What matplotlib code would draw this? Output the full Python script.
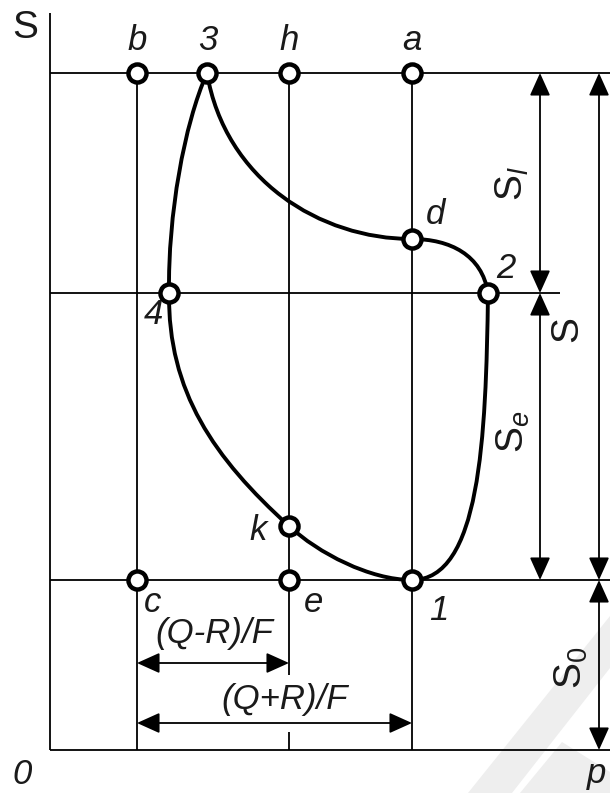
import matplotlib
matplotlib.use("Agg")
import matplotlib.pyplot as plt
from matplotlib.path import Path
from matplotlib.patches import PathPatch, Polygon, ArrowStyle

plt.rcParams['font.family'] = ['Liberation Sans', 'DejaVu Sans']
plt.rcParams['mathtext.fontset'] = 'custom'
plt.rcParams['mathtext.rm'] = 'Liberation Sans'
plt.rcParams['mathtext.it'] = 'Liberation Sans:italic'

# Diagram frame (drawing units, y grows downward)
axis_x = 50
axis_top = 13
level_top = 73      # b, 3, h, a
level_mid = 293     # 4, 2
level_low = 580     # c, e, 1
level_base = 750    # p axis
col_c = 137
col_e = 289
col_1 = 412
dim_inner_x = 540
dim_outer_x = 599
right_edge = 610
mid_line_end = 560

# Cycle points
pt_1 = (412, 580)
pt_2 = (488, 293)
pt_d = (412, 239)
pt_3 = (207, 73)
pt_4 = (169, 293)
pt_k = (289, 526)

# Cubic segments of the closed loop: 1-2-d-3-4-k-1 (control points)
seg_1_2 = [(480, 580), (486, 440)]
seg_2_d = [(482, 255), (450, 239)]
seg_d_3 = [(320, 239), (225, 180)]
seg_3_4 = [(184, 125), (168, 215)]
seg_4_k = [(168, 392), (214, 458)]
seg_k_1 = [(318, 553), (370, 580)]

marker_pts_top = [(col_c, level_top), (pt_3[0], level_top), (col_e, level_top), (col_1, level_top)]
marker_pts_low = [(col_c, level_low), (col_e, level_low), pt_1]
marker_pts_mid = [pt_4, pt_2, pt_d, pt_k]

fig = plt.figure(figsize=(6.10, 7.93), dpi=100)
ax = fig.add_axes([0, 0, 1, 1])
ax.set_xlim(0, 610)
ax.set_ylim(793, 0)
ax.axis('off')

# Watermark bands
wm = '#eeeeee'
ax.add_patch(Polygon([(468, 793), (610, 616), (610, 668), (512, 793)], closed=True, fc=wm, ec='none', zorder=0))
ax.add_patch(Polygon([(520, 793), (562, 742), (610, 772), (610, 793)], closed=True, fc=wm, ec='none', zorder=0))

thin = dict(color='black', lw=1.3, solid_capstyle='butt', zorder=1)
ax.plot([axis_x, axis_x], [axis_top, level_base], **thin)
ax.plot([axis_x, right_edge], [level_top, level_top], **thin)
ax.plot([axis_x, mid_line_end], [level_mid, level_mid], **thin)
ax.plot([axis_x, right_edge], [level_low, level_low], **thin)
ax.plot([axis_x, right_edge], [level_base, level_base], **thin)
ax.plot([col_c, col_c], [level_top, level_base], **thin)
ax.plot([col_e, col_e], [level_top, 675], **thin)
ax.plot([col_e, col_e], [732, level_base], **thin)
ax.plot([col_1, col_1], [level_top, level_base], **thin)

# Closed cycle curve
verts = [pt_1, *seg_1_2, pt_2, *seg_2_d, pt_d, *seg_d_3, pt_3,
         *seg_3_4, pt_4, *seg_4_k, pt_k, *seg_k_1, pt_1]
codes = [Path.MOVETO] + [Path.CURVE4] * (len(verts) - 1)
ax.add_patch(PathPatch(Path(verts, codes), fc='none', ec='black', lw=2.8,
                       joinstyle='miter', zorder=2))

# Points
for group in (marker_pts_top, marker_pts_low, marker_pts_mid):
    xs = [p[0] for p in group]
    ys = [p[1] for p in group]
    ax.plot(xs, ys, 'o', ms=13, mfc='white', mec='black', mew=3.2, zorder=4)

# Dimension arrows
head = ArrowStyle('<|-|>', head_length=1.0, head_width=0.45)
def dim(p0, p1):
    ax.annotate('', xy=p1, xytext=p0,
                arrowprops=dict(arrowstyle=head, mutation_scale=14, color='black',
                                lw=1.3, shrinkA=0, shrinkB=0), zorder=3)

dim((dim_inner_x, level_top), (dim_inner_x, level_mid))
dim((dim_inner_x, level_mid), (dim_inner_x, level_low))
dim((dim_outer_x, level_top), (dim_outer_x, level_low))
dim((dim_outer_x, level_low), (dim_outer_x, level_base))
dim((col_c, 663), (col_e, 663))
dim((col_c, 723), (col_1, 723))

fs = 25
ink = '#1a1a1a'
it = dict(fontsize=fs, style='italic', ha='center', va='center', color=ink)
ax.text(25, 28, 'S', fontsize=28, ha='center', va='center', color=ink)
for label, x, y in [('b', 137, 40), ('3', 208, 41), ('h', 289, 40), ('a', 412, 41),
                    ('d', 436, 214), ('2', 506, 268), ('4', 153, 315), ('k', 258, 530),
                    ('c', 153, 603), ('e', 314, 603), ('1', 439, 610),
                    ('0', 22, 775), ('p', 597, 774)]:
    ax.text(x, y, label, **it)

ax.text(214, 634, '(Q-R)/F', **it)
ax.text(285, 699, '(Q+R)/F', **it)

rot = dict(fontsize=28, ha='center', va='center', rotation=90, color=ink)
ax.text(512, 184, r'S$_{\mathit{l}}$', **rot)
ax.text(567, 329, 'S', **rot)
ax.text(513, 432, r'S$_{\mathit{e}}$', **rot)
ax.text(571, 668, r'S$_{\mathit{0}}$', **rot)

fig.savefig('out.png', dpi=100)
